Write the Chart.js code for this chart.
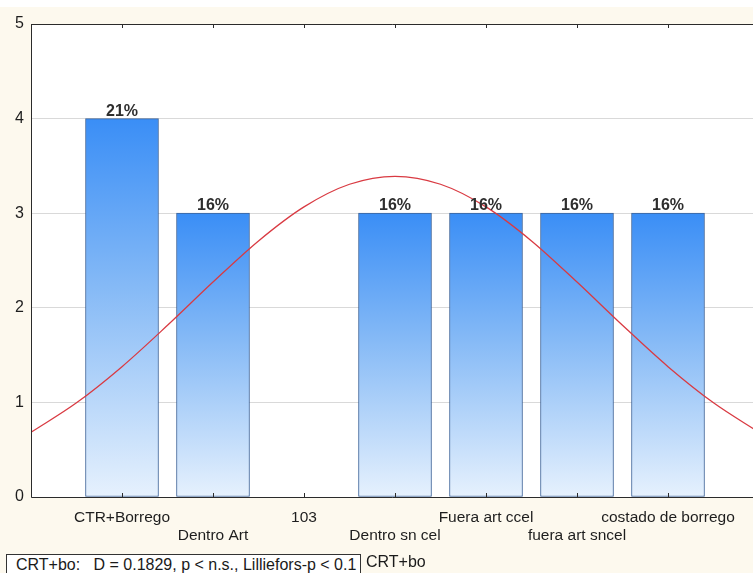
<!DOCTYPE html>
<html>
<head>
<meta charset="utf-8">
<script src="https://cdn.jsdelivr.net/npm/chart.js@4.4.1/dist/chart.umd.min.js"></script>
<style>
  html, body { margin: 0; padding: 0; background: #ffffff; }
  #wrap { position: relative; width: 753px; height: 573px; overflow: hidden; }
  canvas { position: absolute; left: 0; top: 0; }
  .foot { position: absolute; font-family: "Liberation Sans", Arial, sans-serif; font-size: 16px; color: #1a1a1a; white-space: pre; }
  #statbox { left: 6px; top: 554px; width: 355px; height: 30px; border: 1px solid #333; box-sizing: border-box; padding: 1px 0 0 9px; background: #ffffff; }
  #statname { left: 366px; top: 553px; }
</style>
</head>
<body>
<div id="wrap">
  <canvas id="c" width="753" height="573"></canvas>
  <div class="foot" id="statbox">CRT+bo:   D = 0.1829, p &lt; n.s., Lilliefors-p &lt; 0.1</div>
  <div class="foot" id="statname">CRT+bo</div>
</div>
<script>
// Category positions and their labels (alternating label rows on the axis)
const categoryPositions = [1, 2, 3, 4, 5, 6, 7];
const categoryLabels = ["CTR+Borrego", "Dentro Art", "103", "Dentro sn cel", "Fuera art ccel", "fuera art sncel", "costado de borrego"];
// Observed counts per category (category "103" has none)
const counts = [4, 3, 0, 3, 3, 3, 3];
// Expected normal curve, sampled along the category axis
const curveX = [0, 0.5, 1, 1.5, 2, 2.5, 3, 3.5, 4, 4.5, 5, 5.5, 6, 6.5, 7, 7.5, 8];
const curveY = [0.684, 0.996, 1.378, 1.815, 2.272, 2.707, 3.067, 3.306, 3.39, 3.306, 3.067, 2.707, 2.272, 1.815, 1.378, 0.996, 0.684];
// Y axis tick values
const yTicks = [0, 1, 2, 3, 4, 5];

const total = counts.reduce((a, b) => a + b, 0);
const barPoints = categoryPositions.map((x, i) => ({ x: x, y: counts[i] })).filter(p => p.y > 0);
const curvePoints = curveX.map((x, i) => ({ x: x, y: curveY[i] }));

const FONT = '"Liberation Sans", Arial, sans-serif';

function barGradient(ctx) {
  const chart = ctx.chart;
  const ys = chart.scales.y;
  if (!chart.chartArea || !ys || ctx.raw == null) return '#4a94f2';
  const top = ys.getPixelForValue(ctx.raw.y);
  const bottom = ys.getPixelForValue(0);
  const g = chart.ctx.createLinearGradient(0, top, 0, bottom);
  g.addColorStop(0, '#3a8ef6');
  g.addColorStop(0.45, '#86baf6');
  g.addColorStop(1, '#e6f1fd');
  return g;
}

// Page background, plot frame, inward tick marks and value labels
const decor = {
  id: 'decor',
  beforeDraw(chart) {
    const { ctx, chartArea: a } = chart;
    ctx.save();
    ctx.fillStyle = '#ffffff';
    ctx.fillRect(0, 0, chart.width, chart.height);
    ctx.fillStyle = '#fdf9ee';
    ctx.fillRect(0, 7, chart.width, chart.height - 7);
    ctx.fillStyle = '#ffffff';
    ctx.fillRect(a.left, a.top, a.right - a.left, a.bottom - a.top);
    ctx.restore();
  },
  afterDraw(chart) {
    const { ctx, chartArea: a } = chart;
    const xs = chart.scales.x;
    ctx.save();
    ctx.strokeStyle = '#2b2b2b';
    ctx.lineWidth = 1;
    ctx.beginPath();
    ctx.moveTo(a.left + 0.5, a.top + 0.5);
    ctx.lineTo(a.right, a.top + 0.5);
    ctx.moveTo(a.left + 0.5, a.top);
    ctx.lineTo(a.left + 0.5, a.bottom + 0.5);
    ctx.lineTo(a.right, a.bottom + 0.5);
    categoryPositions.forEach(v => {
      const px = Math.round(xs.getPixelForValue(v)) + 0.5;
      ctx.moveTo(px, a.top);
      ctx.lineTo(px, a.top + 4);
      ctx.moveTo(px, a.bottom);
      ctx.lineTo(px, a.bottom - 4);
    });
    ctx.stroke();

    const meta = chart.getDatasetMeta(0);
    ctx.fillStyle = '#2e2e2e';
    ctx.font = 'bold 16px ' + FONT;
    ctx.textAlign = 'center';
    ctx.textBaseline = 'alphabetic';
    meta.data.forEach((el, i) => {
      const v = barPoints[i].y;
      const pct = Math.round(v / total * 100) + '%';
      ctx.fillText(pct, el.x, el.y - 3);
    });
    ctx.restore();
  }
};

new Chart(document.getElementById('c'), {
  type: 'bar',
  data: {
    datasets: [
      {
        type: 'bar',
        data: barPoints,
        backgroundColor: barGradient,
        borderColor: '#3d6399',
        borderWidth: 1,
        borderSkipped: false,
        barThickness: 73,
        order: 2
      },
      {
        type: 'line',
        data: curvePoints,
        borderColor: '#d93a42',
        borderWidth: 1.3,
        pointRadius: 0,
        tension: 0.4,
        cubicInterpolationMode: 'monotone',
        fill: false,
        order: 1
      }
    ]
  },
  options: {
    responsive: false,
    animation: false,
    events: [],
    layout: { padding: { top: 24, left: 0, right: 0, bottom: 0 } },
    plugins: { legend: { display: false }, tooltip: { enabled: false } },
    scales: {
      x: {
        type: 'linear',
        min: 0,
        max: 7.934,
        offset: false,
        grid: { display: false, drawTicks: false },
        border: { display: false },
        afterBuildTicks(scale) {
          scale.ticks = categoryPositions.map(v => ({ value: v }));
        },
        afterFit(scale) { scale.height = 76; },
        ticks: {
          autoSkip: false,
          maxRotation: 0,
          minRotation: 0,
          padding: 11,
          color: '#1e1e1e',
          font: { family: FONT, size: 15.5, lineHeight: 1.2 },
          callback(value) {
            const i = categoryPositions.indexOf(value);
            if (i < 0) return '';
            return i % 2 === 0 ? [categoryLabels[i], ''] : ['', categoryLabels[i]];
          }
        }
      },
      y: {
        min: 0,
        max: 5,
        grid: { color: '#d9d9d9', lineWidth: 1, drawTicks: false },
        border: { display: false },
        afterBuildTicks(scale) {
          scale.ticks = yTicks.map(v => ({ value: v }));
        },
        afterFit(scale) { scale.width = 31; },
        ticks: {
          padding: 7,
          color: '#1e1e1e',
          font: { family: FONT, size: 16 }
        }
      }
    }
  },
  plugins: [decor]
});
</script>
</body>
</html>
